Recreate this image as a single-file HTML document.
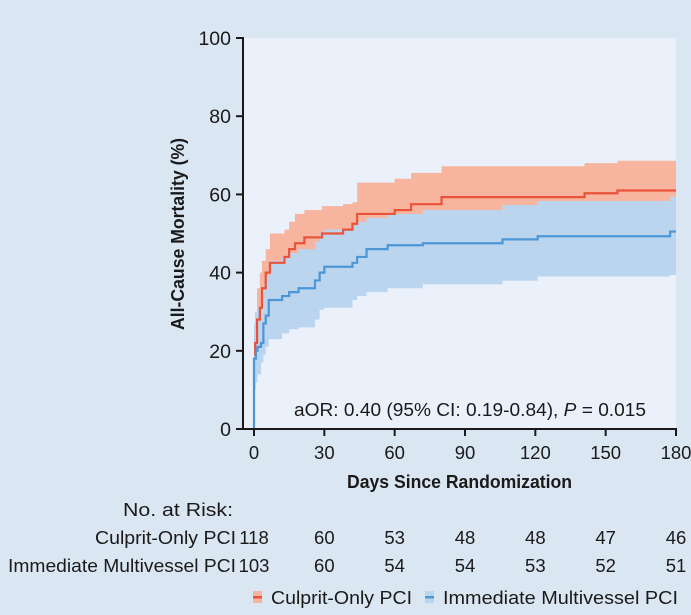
<!DOCTYPE html>
<html><head><meta charset="utf-8"><style>
html,body{margin:0;padding:0;background:#dbe6f3;}
svg{display:block;}
text{font-family:"Liberation Sans",sans-serif;fill:#1a1a1a;}
</style></head><body>
<svg id="chart" width="691" height="615" viewBox="0 0 691 615">
<rect x="0" y="0" width="691" height="615" fill="#dbe6f3"/>
<rect x="243" y="38" width="433" height="391" fill="#eaf1fa"/>
<g id="bands"></g><g id="lines"></g><g id="axes"></g>
<text x="294" y="416" font-size="18" textLength="352" lengthAdjust="spacingAndGlyphs">aOR: 0.40 (95% CI: 0.19-0.84), <tspan font-style="italic">P</tspan> = 0.015</text>
<text transform="translate(184,234) rotate(-90)" font-size="18" font-weight="bold" text-anchor="middle" textLength="192" lengthAdjust="spacingAndGlyphs">All-Cause Mortality (%)</text>
<text x="347" y="488" font-size="18" font-weight="bold" textLength="225" lengthAdjust="spacingAndGlyphs">Days Since Randomization</text>
<text x="123" y="516" font-size="18" textLength="110" lengthAdjust="spacingAndGlyphs">No. at Risk:</text>
<g id="risk"></g>
<g>
<rect x="253" y="591" width="9" height="12" fill="#f7b59f"/>
<rect x="253" y="596" width="9" height="2.5" fill="#e8533a"/>
<text x="271" y="604" font-size="18" textLength="141" lengthAdjust="spacingAndGlyphs">Culprit-Only PCI</text>
<rect x="425" y="591" width="9" height="12" fill="#bcd5ef"/>
<rect x="425" y="596" width="9" height="2.5" fill="#4d96d6"/>
<text x="443" y="604" font-size="18" textLength="235" lengthAdjust="spacingAndGlyphs">Immediate Multivessel PCI</text>
</g>
</svg>
<script>
const xTicks=[0,30,60,90,120,150,180];
const yTicks=[0,20,40,60,80,100];
const redDays=[0,0.5,1.3,2.5,3.4,5,6.8,13,15,17.5,21.5,29,38,42,44,60,67,80,141,155];
const redVals=[19,22,28,31,36,40,42.5,44,46,47.5,49,50,51,52.5,55,56,57.5,59.3,60.3,61];
const redUpper=[26,30,36,40,43,46,50,51,53,55,56,57,57.5,58,63,64,65.5,67.2,68,68.6];
const redLower=[13,15,21,24,29,33,35,36,38,40,42,43,44,45,47,48,50,51.5,52.5,53];
const blueDays=[0,0.8,1.5,3,4,5,6.3,12,15,19,26,28,30,42,44,48,57,72,106,121,177.5];
const blueVals=[18,20,21,22,27,29,33,34,35,36,38,40,41.5,42.5,44,46,47,47.5,48.5,49.3,50.5];
const blueUpper=[27,30,31,33,37,39,43,44,45,46,48,50,51,52,53,54,55,56,57.3,58.3,59.4];
const blueLower=[10,12,14,17,19,21,23,24.5,25.5,26,28,30.5,31,33,34,35,36,37,37.9,39,39.4];
const riskCulprit=[118,60,53,48,48,47,46];
const riskMulti=[103,60,54,54,53,52,51];
const X=d=>254+d*(422/180), Y=v=>429-v*3.91;
const NS="http://www.w3.org/2000/svg";
function mk(tag,attrs,parent){const e=document.createElementNS(NS,tag);for(const k in attrs)e.setAttribute(k,attrs[k]);parent.appendChild(e);return e;}
function stepPts(days,vals,end){let p=[];for(let i=0;i<days.length;i++){const nx=i+1<days.length?days[i+1]:end;p.push([X(days[i]),Y(vals[i])],[X(nx),Y(vals[i])]);}return p;}
function band(days,up,lo,fill,name){const u=stepPts(days,up,180),l=stepPts(days,lo,180).reverse();const d="M"+u.concat(l).map(p=>p.join(",")).join("L")+"Z";const e=mk("path",{d:d,fill:fill},document.getElementById("bands"));

}
function line(days,vals,col,name,start0){let p=stepPts(days,vals,180);if(start0)p.unshift([X(0),Y(0)]);const e=mk("path",{d:"M"+p.map(q=>q.join(",")).join("L"),fill:"none",stroke:col,"stroke-width":2.2},document.getElementById("lines"));

}
band(redDays,redUpper,redLower,"#f7b59f","culprit-ci-band");
band(blueDays,blueUpper,blueLower,"#bcd5ef","multivessel-ci-band");
line(redDays,redVals,"#e8533a","culprit-line",false);
line(blueDays,blueVals,"#4d96d6","multivessel-line",true);
const ax=document.getElementById("axes");
const ya=mk("line",{x1:243,y1:37,x2:243,y2:430,stroke:"#1a1a1a","stroke-width":2},ax);


const xa=mk("line",{x1:236,y1:429,x2:677,y2:429,stroke:"#1a1a1a","stroke-width":2},ax);


yTicks.forEach(v=>{const t=mk("line",{x1:236,y1:Y(v),x2:243,y2:Y(v),stroke:"#1a1a1a","stroke-width":2},ax);


const l=mk("text",{x:231,y:Y(v)+7,"font-size":19.5,"text-anchor":"end"},ax);l.textContent=v;

});
xTicks.forEach(d=>{const t=mk("line",{x1:X(d),y1:429,x2:X(d),y2:436,stroke:"#1a1a1a","stroke-width":2},ax);


const l=mk("text",{x:X(d),y:459,"font-size":18.5,"text-anchor":"middle"},ax);l.textContent=d;

});
const rk=document.getElementById("risk");
[["Culprit-Only PCI",riskCulprit,544,95,141],["Immediate Multivessel PCI",riskMulti,572,8,228]].forEach(r=>{
const lb=mk("text",{x:r[3],y:r[2],"font-size":18,textLength:r[4],lengthAdjust:"spacingAndGlyphs"},rk);lb.textContent=r[0];


r[1].forEach((n,i)=>{const t=mk("text",{x:X(xTicks[i]),y:r[2],"font-size":18.5,"text-anchor":"middle"},rk);t.textContent=n;

});});
</script>
</body></html>
